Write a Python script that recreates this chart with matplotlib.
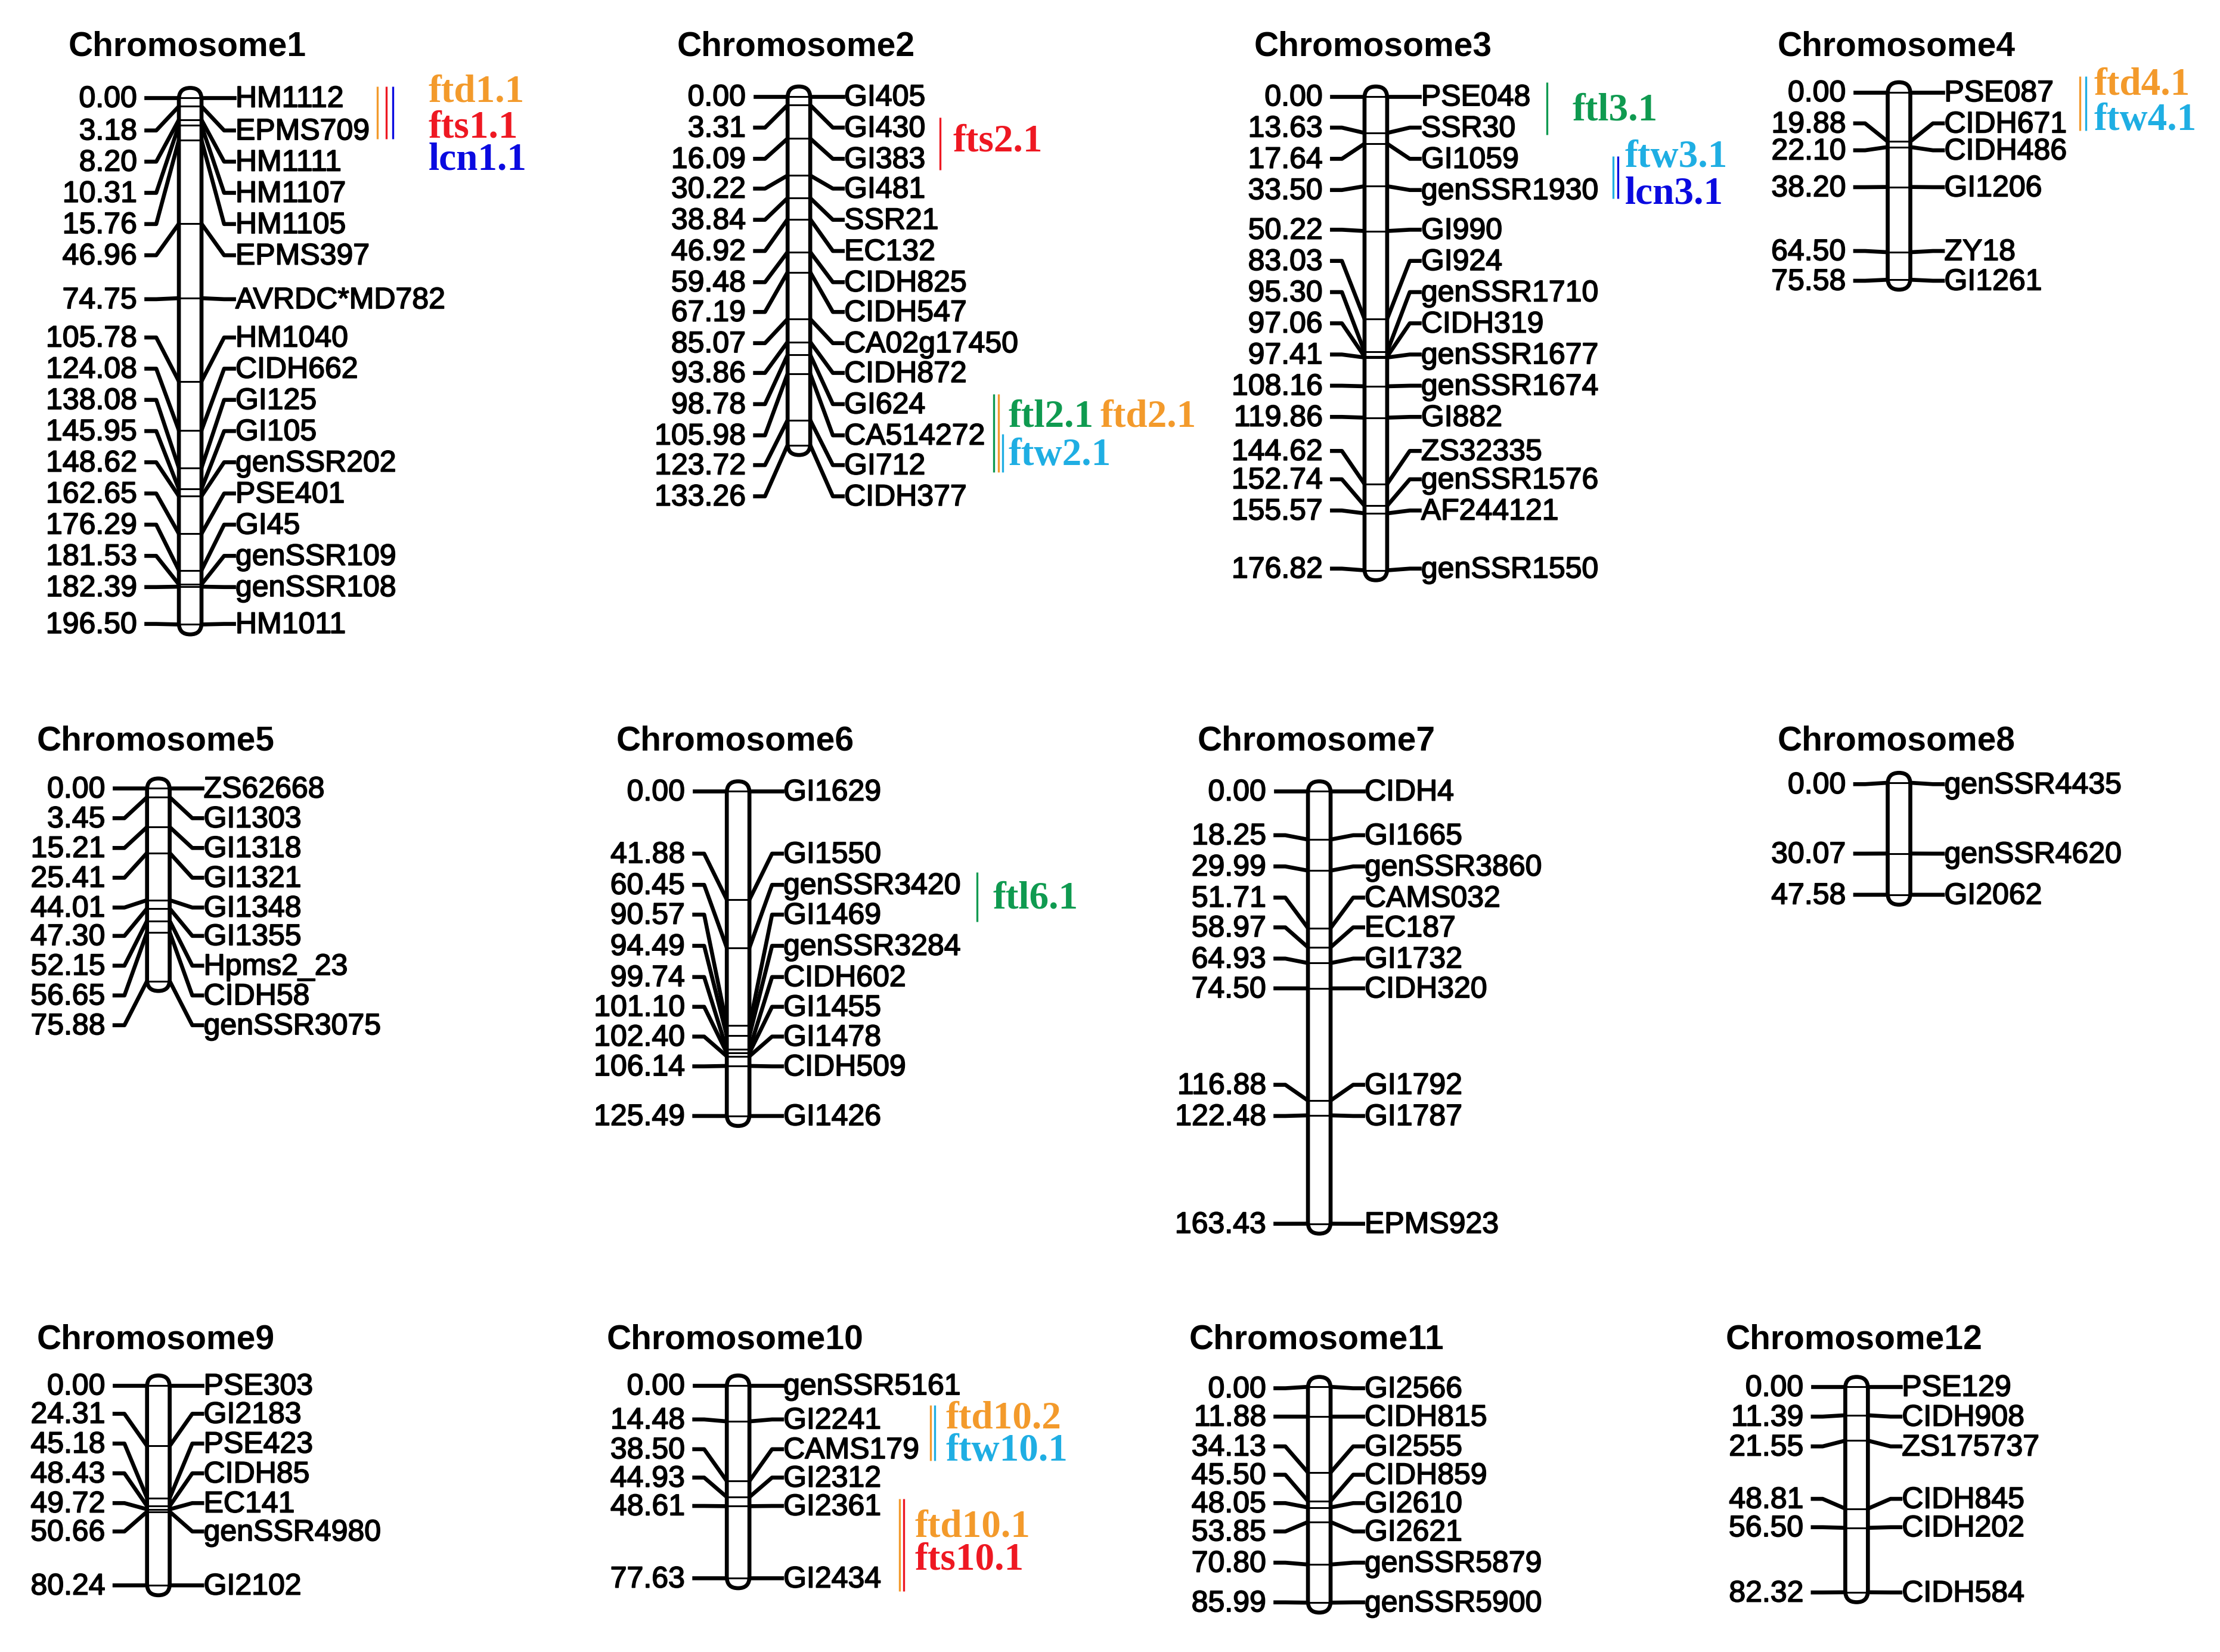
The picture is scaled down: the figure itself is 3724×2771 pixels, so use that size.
import matplotlib
matplotlib.use("Agg")
import matplotlib.pyplot as plt
import matplotlib.patheffects as pe
from matplotlib.patches import FancyBboxPatch

plt.rcParams['font.family'] = ['Liberation Sans', 'DejaVu Sans']

# marker positions (cM) and marker names
chr1_pos = [0.00, 3.18, 8.20, 10.31, 15.76, 46.96, 74.75, 105.78, 124.08, 138.08, 145.95, 148.62, 162.65, 176.29, 181.53, 182.39, 196.50]
chr1_names = ["HM1112", "EPMS709", "HM1111", "HM1107", "HM1105", "EPMS397", "AVRDC*MD782", "HM1040", "CIDH662", "GI125", "GI105", "genSSR202", "PSE401", "GI45", "genSSR109", "genSSR108", "HM1011"]
chr2_pos = [0.00, 3.31, 16.09, 30.22, 38.84, 46.92, 59.48, 67.19, 85.07, 93.86, 98.78, 105.98, 123.72, 133.26]
chr2_names = ["GI405", "GI430", "GI383", "GI481", "SSR21", "EC132", "CIDH825", "CIDH547", "CA02g17450", "CIDH872", "GI624", "CA514272", "GI712", "CIDH377"]
chr3_pos = [0.00, 13.63, 17.64, 33.50, 50.22, 83.03, 95.30, 97.06, 97.41, 108.16, 119.86, 144.62, 152.74, 155.57, 176.82]
chr3_names = ["PSE048", "SSR30", "GI1059", "genSSR1930", "GI990", "GI924", "genSSR1710", "CIDH319", "genSSR1677", "genSSR1674", "GI882", "ZS32335", "genSSR1576", "AF244121", "genSSR1550"]
chr4_pos = [0.00, 19.88, 22.10, 38.20, 64.50, 75.58]
chr4_names = ["PSE087", "CIDH671", "CIDH486", "GI1206", "ZY18", "GI1261"]
chr5_pos = [0.00, 3.45, 15.21, 25.41, 44.01, 47.30, 52.15, 56.65, 75.88]
chr5_names = ["ZS62668", "GI1303", "GI1318", "GI1321", "GI1348", "GI1355", "Hpms2_23", "CIDH58", "genSSR3075"]
chr6_pos = [0.00, 41.88, 60.45, 90.57, 94.49, 99.74, 101.10, 102.40, 106.14, 125.49]
chr6_names = ["GI1629", "GI1550", "genSSR3420", "GI1469", "genSSR3284", "CIDH602", "GI1455", "GI1478", "CIDH509", "GI1426"]
chr7_pos = [0.00, 18.25, 29.99, 51.71, 58.97, 64.93, 74.50, 116.88, 122.48, 163.43]
chr7_names = ["CIDH4", "GI1665", "genSSR3860", "CAMS032", "EC187", "GI1732", "CIDH320", "GI1792", "GI1787", "EPMS923"]
chr8_pos = [0.00, 30.07, 47.58]
chr8_names = ["genSSR4435", "genSSR4620", "GI2062"]
chr9_pos = [0.00, 24.31, 45.18, 48.43, 49.72, 50.66, 80.24]
chr9_names = ["PSE303", "GI2183", "PSE423", "CIDH85", "EC141", "genSSR4980", "GI2102"]
chr10_pos = [0.00, 14.48, 38.50, 44.93, 48.61, 77.63]
chr10_names = ["genSSR5161", "GI2241", "CAMS179", "GI2312", "GI2361", "GI2434"]
chr11_pos = [0.00, 11.88, 34.13, 45.50, 48.05, 53.85, 70.80, 85.99]
chr11_names = ["GI2566", "CIDH815", "GI2555", "CIDH859", "GI2610", "GI2621", "genSSR5879", "genSSR5900"]
chr12_pos = [0.00, 11.39, 21.55, 48.81, 56.50, 82.32]
chr12_names = ["PSE129", "CIDH908", "ZS175737", "CIDH845", "CIDH202", "CIDH584"]

all_pos = [chr1_pos, chr2_pos, chr3_pos, chr4_pos, chr5_pos, chr6_pos, chr7_pos, chr8_pos, chr9_pos, chr10_pos, chr11_pos, chr12_pos]
all_names = [chr1_names, chr2_names, chr3_names, chr4_names, chr5_names, chr6_names, chr7_names, chr8_names, chr9_names, chr10_names, chr11_names, chr12_names]

# layout: everything below is in a roughly 1570 wide canvas
bar_x = [134.5, 565, 973, 1343, 112, 522, 933, 1343, 112, 522, 933, 1313]
bar_top = [69, 68, 68, 65, 556, 558, 558, 552, 977, 977, 978, 978]
px_per_cm = [1.89, 1.845, 1.89, 1.75, 1.79, 1.825, 1.866, 1.66, 1.757, 1.752, 1.77, 1.76]
title_y = [32, 32, 32, 32, 522, 522, 522, 522, 944, 944, 944, 944]
label_rows = [
    [69, 92, 114, 136, 158, 180, 211, 238, 260, 282, 304, 326, 348, 370, 392, 414, 440],
    [68, 90, 112, 133, 155, 177, 199, 220, 242, 263, 285, 307, 328, 350],
    [68, 90, 112, 134, 162, 184, 206, 228, 250, 272, 294, 318, 338, 360, 401],
    [65, 87, 106, 132, 177, 198],
    [556, 577, 598, 619, 640, 660, 681, 702, 723],
    [558, 602, 624, 645, 667, 689, 710, 731, 752, 787],
    [558, 589, 611, 633, 654, 676, 697, 765, 787, 863],
    [553, 602, 631],
    [977, 997, 1018, 1039, 1060, 1080, 1118],
    [977, 1001, 1022, 1042, 1062, 1113],
    [979, 999, 1020, 1040, 1060, 1080, 1102, 1130],
    [978, 999, 1020, 1057, 1077, 1123],
]

ORANGE = "#F39A2B"
RED = "#EE1822"
BLUE = "#0A0AE0"
GREEN = "#0F9A50"
CYAN = "#1FAEE3"

qtl_names = ["ftd1.1", "fts1.1", "lcn1.1", "fts2.1", "ftl2.1", "ftd2.1", "ftw2.1", "ftl3.1", "ftw3.1", "lcn3.1",
             "ftd4.1", "ftw4.1", "ftl6.1", "ftd10.2", "ftw10.1", "ftd10.1", "fts10.1"]
qtl_colors = [ORANGE, RED, BLUE, RED, GREEN, ORANGE, CYAN, GREEN, CYAN, BLUE,
              ORANGE, CYAN, GREEN, ORANGE, CYAN, ORANGE, RED]
qtl_text_x = [303, 303, 303, 674, 713, 778, 713, 1112, 1149, 1149, 1481, 1481, 702, 669, 669, 647, 647]
qtl_text_y = [65, 90, 113, 100, 294, 294, 321, 78, 111, 137, 60, 85, 634, 1000.5, 1023.5, 1077, 1100]

# confidence interval strokes
ci_x = [267, 273, 278, 665, 703, 706, 709, 1094, 1141, 1144, 1471, 1475, 691, 658, 661, 636, 639]
ci_top = [61, 61, 61, 83, 278, 278, 306, 58, 110, 110, 54, 54, 615, 991, 991, 1057, 1057]
ci_bottom = [98, 98, 98, 120, 333, 333, 333, 95, 140, 140, 92, 92, 650, 1030, 1030, 1122, 1122]

fig = plt.figure(figsize=(37.24, 27.71), dpi=100)
ax = fig.add_axes([0, 0, 1, 1])
ax.set_xlim(0, 1570)
ax.set_ylim(1165, 0)
ax.axis("off")

half_w = 8
stub_end = 31
stub_start = 24
heavy = [pe.withStroke(linewidth=1.3, foreground="black")]

for i in range(12):
    x = bar_x[i]
    ys = [bar_top[i] + p * px_per_cm[i] for p in all_pos[i]]

    body = FancyBboxPatch((x - 1, ys[0]), 2, ys[-1] - ys[0], boxstyle="round,pad=7,rounding_size=8",
                          fc="white", ec="black", lw=4.8, zorder=1)
    ax.add_patch(body)

    for j in range(len(ys)):
        y = ys[j]
        ly = label_rows[i][j]
        ax.plot([x - half_w, x + half_w], [y, y], color="black", lw=2.2, zorder=2)
        ax.plot([x - stub_end, x - stub_start, x - half_w], [ly, ly, y], color="black", lw=4.8, zorder=0)
        ax.plot([x + stub_end, x + stub_start, x + half_w], [ly, ly, y], color="black", lw=4.8, zorder=0)
        ax.text(x - 37.5, ly + 1, "%.2f" % all_pos[i][j], ha="right", va="center", fontsize=36,
                color="black", path_effects=heavy)
        ax.text(x + 32, ly + 1, all_names[i][j], ha="left", va="center", fontsize=36,
                color="black", path_effects=heavy)

    ax.text(x - 2, title_y[i] + 1, "Chromosome%d" % (i + 1), ha="center", va="center",
            fontsize=41, fontweight="bold", color="black")

for k in range(len(qtl_names)):
    ax.plot([ci_x[k], ci_x[k]], [ci_top[k], ci_bottom[k]], color=qtl_colors[k], lw=2.4, solid_capstyle="butt")
    ax.text(qtl_text_x[k], qtl_text_y[k], qtl_names[k], ha="left", va="center", fontsize=47,
            fontweight="bold", family=["Liberation Serif", "DejaVu Serif"], color=qtl_colors[k])

fig.savefig("out.png", dpi=100, facecolor="white")
